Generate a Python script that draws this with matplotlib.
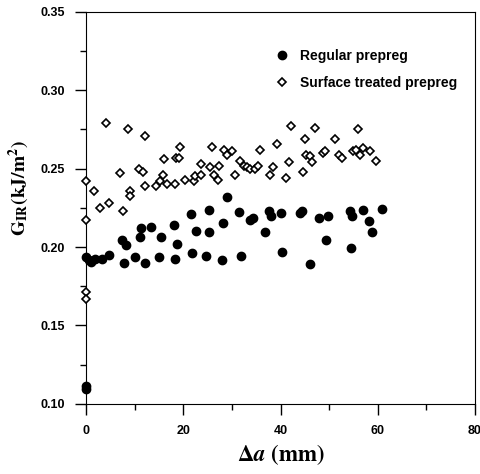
import matplotlib.pyplot as plt
from matplotlib.ticker import MultipleLocator

# Regular prepreg (filled circles)
reg_da = [0.0, 0.5, 1.0, 1.9, 3.2, 4.7, 7.3, 8.2, 7.8, 10.0, 11.0, 11.2, 12.2, 13.4,
          14.9, 15.4, 18.0, 18.2, 18.8, 21.6, 21.7, 22.6, 24.7, 25.3, 25.3, 27.9, 28.1,
          28.9, 31.4, 31.8, 33.7, 34.3, 36.8, 37.7, 38.1, 40.1, 40.4, 44.0, 44.5, 46.1,
          48.0, 49.4, 49.8, 54.2, 54.5, 54.7, 56.9, 58.2, 58.8, 60.9, 0.0, 0.0]
reg_g = [0.1936, 0.1918, 0.1904, 0.1925, 0.1925, 0.1950, 0.2046, 0.2010, 0.1897, 0.1936,
         0.2067, 0.2124, 0.1897, 0.2129, 0.1936, 0.2061, 0.2140, 0.1925, 0.2019, 0.2210,
         0.1960, 0.2103, 0.1944, 0.2237, 0.2095, 0.1918, 0.2152, 0.2318, 0.2222, 0.1944,
         0.2173, 0.2188, 0.2097, 0.2227, 0.2201, 0.2216, 0.1967, 0.2216, 0.2227, 0.1895,
         0.2184, 0.2046, 0.2195, 0.2227, 0.1997, 0.2200, 0.2237, 0.2167, 0.2097, 0.2242,
         0.1095, 0.1115]

# Surface treated prepreg (open diamonds)
srf_da = [0.0, 0.0, 0.0, 0.0, 1.6, 2.9, 4.1, 4.7, 6.9, 7.5, 8.6, 9.1, 9.1, 10.9, 11.8,
          12.1, 12.1, 14.4, 15.1, 15.8, 16.0, 16.6, 18.2, 18.4, 19.1, 19.3, 20.3, 22.1,
          22.5, 23.7, 23.7, 25.5, 25.9, 26.3, 27.2, 27.4, 28.4, 29.0, 30.1, 30.7, 31.7,
          32.4, 33.1, 33.7, 34.8, 35.4, 35.8, 37.9, 38.5, 39.2, 41.2, 41.7, 42.1, 44.7,
          45.1, 45.3, 46.1, 46.4, 47.1, 48.8, 49.2, 51.1, 52.1, 52.7, 54.9, 55.6, 55.9,
          56.4, 56.9, 58.4, 59.6]
srf_g = [0.242, 0.217, 0.1716, 0.167, 0.236, 0.225, 0.279, 0.228, 0.247, 0.223, 0.275,
         0.236, 0.2327, 0.250, 0.248, 0.271, 0.239, 0.239, 0.242, 0.246, 0.256, 0.240,
         0.240, 0.257, 0.257, 0.264, 0.243, 0.242, 0.245, 0.246, 0.253, 0.251, 0.264,
         0.246, 0.243, 0.252, 0.262, 0.259, 0.261, 0.246, 0.255, 0.252, 0.251, 0.250,
         0.250, 0.252, 0.262, 0.246, 0.251, 0.266, 0.244, 0.254, 0.277, 0.248, 0.269,
         0.259, 0.258, 0.254, 0.276, 0.260, 0.261, 0.269, 0.259, 0.257, 0.261, 0.262,
         0.275, 0.259, 0.263, 0.261, 0.255]

plt.rcParams["mathtext.fontset"] = "stix"

fig = plt.figure(figsize=(4.81, 4.74), dpi=100)
ax = fig.add_axes([0.179, 0.148, 0.8085, 0.827])

ax.plot(reg_da, reg_g, "o", color="black", markersize=6, clip_on=False,
        label="Regular prepreg", zorder=3)
ax.plot(srf_da, srf_g, "D", markerfacecolor="white", markeredgecolor="black",
        markersize=3.6, markeredgewidth=1.2, clip_on=False,
        label="Surface treated prepreg", zorder=4)

ax.set_xlim(0, 80)
ax.set_ylim(0.10, 0.35)
ax.xaxis.set_major_locator(MultipleLocator(20))
ax.xaxis.set_minor_locator(MultipleLocator(10))
ax.yaxis.set_major_locator(MultipleLocator(0.05))
ax.yaxis.set_minor_locator(MultipleLocator(0.025))
ax.yaxis.set_major_formatter(plt.FormatStrFormatter("%.2f"))
ax.tick_params(which="major", direction="out", length=8, width=1, pad=7,
               labelsize=9)
ax.tick_params(which="minor", direction="out", length=4, width=1)
for lab in ax.get_xticklabels() + ax.get_yticklabels():
    lab.set_fontweight("bold")
    lab.set_family("Liberation Sans")

ax.set_ylabel(r"$\mathbf{G_{IR}(kJ/m^{2})}$", fontsize=14)
ax.yaxis.set_label_coords(-0.142, 0.551)
ax.set_xlabel(r"$\mathbf{\Delta}\mathbfit{a}\ \mathbf{(mm)}$", fontsize=16.5, labelpad=4)

leg = ax.legend(loc="upper left", bbox_to_anchor=(0.486, 0.906), frameon=False,
                borderpad=0, borderaxespad=0, handlelength=1.0, handletextpad=0.8,
                labelspacing=0.95, prop={"family": "Liberation Sans", "weight": "bold",
                                          "size": 10})

fig.savefig("out.png", dpi=100)
